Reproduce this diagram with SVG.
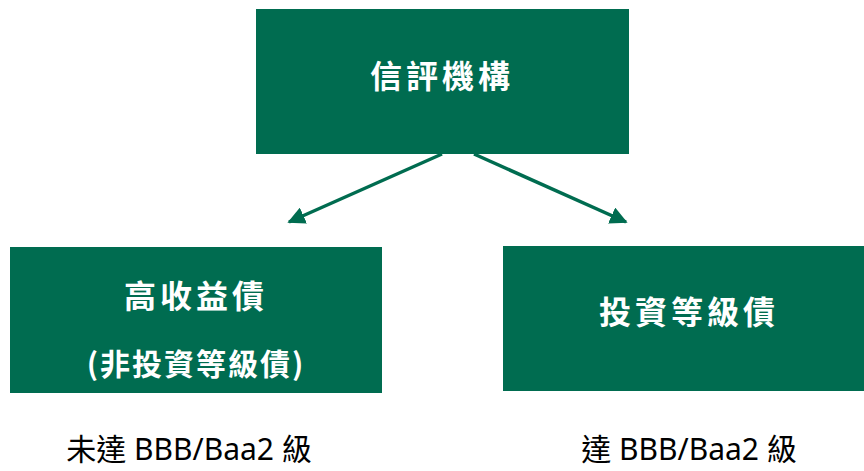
<svg xmlns="http://www.w3.org/2000/svg" width="864" height="471" viewBox="0 0 864 471">
<style>
.box{fill:#006C50;}
.t{font-family:"Noto Sans CJK TC","Noto Sans",sans-serif;fill:#fff;font-weight:bold;text-anchor:middle;dominant-baseline:central;}
.lbl{font-family:"Noto Sans","Noto Sans CJK TC",sans-serif;fill:#000;font-size:30px;text-anchor:middle;dominant-baseline:central;}
.c{stroke:#006C50;stroke-width:3.5;fill:none;}
</style>
<defs>
<marker id="ah" viewBox="0 0 10 10" refX="9" refY="5" markerWidth="5" markerHeight="5" orient="auto" markerUnits="strokeWidth">
<path d="M0,0 L10,5 L0,10 z" fill="#006C50"/>
</marker>
</defs>
<rect width="864" height="471" fill="#fff"/>
<g id="connectors">
<line class="c" x1="442" y1="154" x2="289" y2="222" marker-end="url(#ah)"/>
<line class="c" x1="474" y1="154" x2="626" y2="222" marker-end="url(#ah)"/>
</g>
<g id="rating-agency">
<rect class="box" x="256" y="9" width="373" height="145"/>
<text class="t" x="442" y="74" font-size="32" letter-spacing="4">信評機構</text>
</g>
<g id="high-yield">
<rect class="box" x="10" y="247" width="372" height="146"/>
<text class="t" x="196" y="294" font-size="32" letter-spacing="4">高收益債</text>
<text class="t" x="196" y="362" font-size="30" letter-spacing="2">(非投資等級債)</text>
</g>
<g id="investment-grade">
<rect class="box" x="503" y="246" width="361" height="145"/>
<text class="t" x="689" y="310" font-size="32" letter-spacing="4">投資等級債</text>
</g>
<g id="labels">
<text class="lbl" x="189" y="448">未達 BBB/Baa2 級</text>
<text class="lbl" x="689" y="448">達 BBB/Baa2 級</text>
</g>
</svg>
